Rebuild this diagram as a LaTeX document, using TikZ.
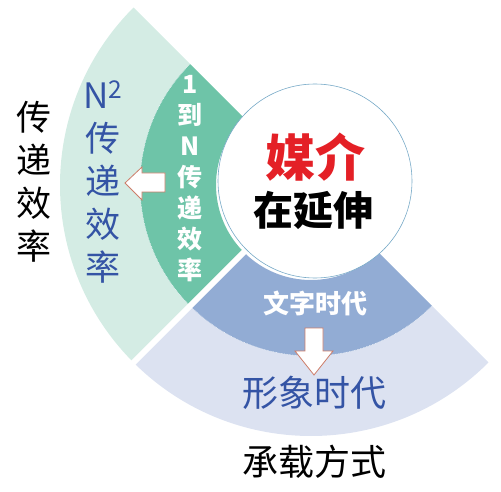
\documentclass[tikz,border=0pt]{standalone}
\usepackage{fontspec}
\newfontfamily\cjk{Noto Sans CJK SC}
\definecolor{outgreen}{RGB}{212,236,228}
\definecolor{ingreen}{RGB}{110,196,168}
\definecolor{inblue}{RGB}{146,172,212}
\definecolor{outblue}{RGB}{220,226,241}
\definecolor{textblue}{RGB}{52,84,165}
\definecolor{mediared}{RGB}{228,32,38}
\definecolor{arrowline}{RGB}{205,125,105}
\definecolor{hubline}{RGB}{120,170,200}
\begin{document}
\begin{tikzpicture}[x=1pt, y=1pt,
    label/.style={inner sep=0pt, align=center},
    blockarrow/.style={fill=white, draw=arrowline, line width=0.8pt, line join=miter}]
        \useasboundingbox (0,0) rectangle (501,491);

        \begin{scope}[shift={(311,306)}]
        \fill[outgreen] (135:251) arc (135:225:251) -- (225:171) arc (225:135:171) -- cycle;
        \fill[ingreen] (135:171) arc (135:225:171) -- (225:95) arc (225:135:95) -- cycle;
        \fill[outblue] (225:251) arc (225:315:251) -- (315:171) arc (315:225:171) -- cycle;
        \fill[inblue] (225:171) arc (225:315:171) -- (315:95) arc (315:225:95) -- cycle;
        \draw[white!85!inblue, densely dotted, line width=0.6pt] (135:171) arc (135:315:171);
        \draw[white, line width=6] (0,0) -- (225:262);
        \end{scope}

        \node[circle, draw=hubline, line width=0.6pt, fill=white, minimum size=194, inner sep=0pt] (hub) at (315,310) {};
        \node[label, font={\cjk\bfseries\fontsize{50}{50}\selectfont}, text=mediared] (media) at (315,334) {媒介};
        \node[label, font={\cjk\bfseries\fontsize{40}{40}\selectfont}] (extend) at (313,281) {在延伸};

        \node[label, font={\cjk\fontsize{35}{43}\selectfont}] (effout) at (34,309) {传\\递\\效\\率};
        \node[label, font={\cjk\fontsize{35}{43}\selectfont}, text=textblue] (effsq) at (103,309) {N\textsuperscript{2}\\传\\递\\效\\率};
        \node[label, font={\cjk\bfseries\fontsize{25}{31}\selectfont}, text=white] (effone) at (190,312) {1\\到\\N\\传\\递\\效\\率};

        \node[label, font={\cjk\bfseries\fontsize{26}{26}\selectfont}, text=white] (wordage) at (315,188) {文字时代};
        \node[label, font={\cjk\fontsize{36}{36}\selectfont}, text=textblue] (imageage) at (314,98) {形象时代};
        \node[label, font={\cjk\fontsize{36}{36}\selectfont}] (carrier) at (314,29) {承载方式};

        \filldraw[blockarrow] (125,308) -- (142,324) -- (142,318) -- (165,318) -- (165,299) -- (142,299) -- (142,291) -- cycle;
        \filldraw[blockarrow] (314,116) -- (333,140) -- (323,140) -- (323,163) -- (305,163) -- (305,140) -- (295,140) -- cycle;
    \end{tikzpicture}
\end{document}
